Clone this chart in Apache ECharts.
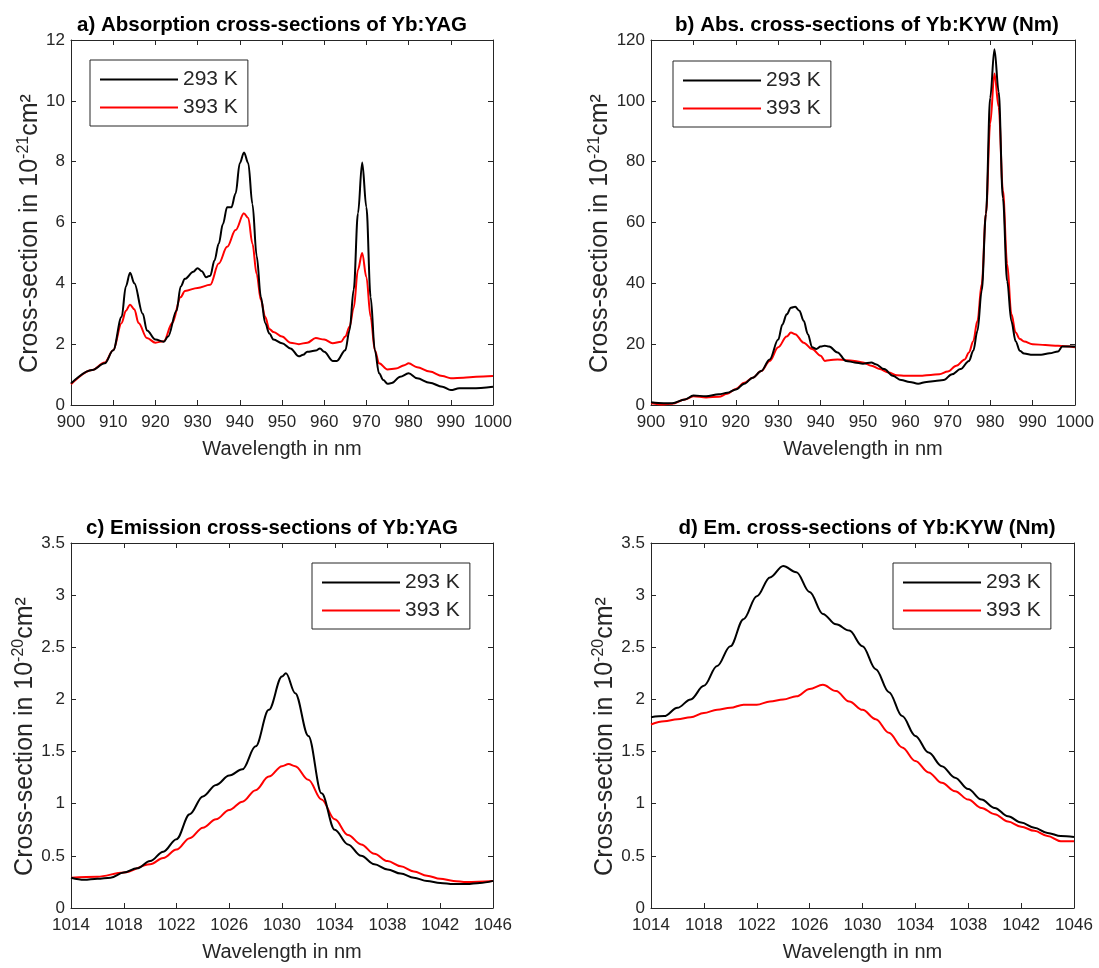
<!DOCTYPE html>
<html><head><meta charset="utf-8">
<script src="https://cdn.jsdelivr.net/npm/echarts@6/dist/echarts.min.js"></script>
<style>html,body{margin:0;padding:0;background:#fff}#c{width:1099px;height:968px}</style>
</head><body><div id="c"></div>
<script>
// ---- Panel a: absorption Yb:YAG (10^-21 cm^2) ----
const aWave293 = [900,905,908,910,912,913,914,915,917,918,920,922,923,925,926,927,929,930,931,932,933,934,935,936,937,938,939,940,941,942,943,944,945,946,947,948,950,952,954,955,956,958,959,960,962,963,965,966,967,968,969,970,971,972,973,974,975,976,978,980,982,985,988,990,992,995,1000];
const aVal293  = [0.71,1.15,1.37,1.8,2.9,3.9,4.35,4.0,3.0,2.45,2.15,2.08,2.25,3.1,3.9,4.15,4.38,4.5,4.4,4.2,4.25,4.75,5.3,5.95,6.5,6.5,6.95,7.95,8.3,7.95,6.6,4.9,3.55,2.7,2.35,2.15,2.03,1.86,1.6,1.65,1.75,1.79,1.86,1.75,1.45,1.45,1.8,2.45,3.8,6.3,7.97,6.5,3.55,1.8,1.04,0.82,0.7,0.72,0.93,1.04,0.88,0.73,0.6,0.49,0.55,0.55,0.6];
const aWave393 = [900,905,908,910,912,913,914,915,916,918,920,922,924,926,927,930,933,935,937,939,941,942,943,944,945,946,947,948,950,952,954,956,958,960,962,964,965,966,967,968,969,970,971,972,973,975,977,979,980,982,985,988,990,993,996,1000];
const aVal393  = [0.68,1.15,1.4,1.8,2.7,3.1,3.3,3.15,2.7,2.2,2.05,2.1,2.7,3.55,3.75,3.85,3.95,4.65,5.2,5.75,6.3,6.15,5.3,4.3,3.45,2.9,2.5,2.4,2.25,2.05,2.0,2.05,2.2,2.15,2.03,2.08,2.25,2.57,3.2,4.45,5.0,4.2,2.9,1.8,1.37,1.17,1.2,1.31,1.37,1.24,1.1,0.95,0.88,0.9,0.93,0.95];

// ---- Panel b: absorption Yb:KYW (Nm) (10^-21 cm^2) ----
const bWave293 = [900,903,905,908,910,913,916,918,920,922,924,926,928,930,931,932,933,934,935,936,937,938,939,940,941,942,944,946,948,950,952,953,955,957,959,961,963,965,967,969,971,973,975,976,977,978,979,980,981,982,983,984,985,986,987,988,990,992,994,996,997,1000];
const bVal293  = [0.9,0.6,0.6,1.8,3.1,2.9,3.5,4,5.1,7,9,11.2,15,21.5,26.5,29.8,32,32.3,31,27.7,23.3,19,18.4,19.2,19.5,19.2,17.3,14.5,14,13.6,14,13.4,11.8,9.6,8.2,7.6,7,7.6,7.9,8.2,10.1,11.8,14.5,17.8,24.4,37.6,62.9,101,117,103,68,40.7,27.5,21,17.8,16.9,16.5,16.5,17,17.6,19.2,19.2];
const bWave393 = [900,903,905,908,910,913,916,918,920,922,924,926,928,930,932,933,934,936,938,940,941,942,944,946,948,950,952,954,956,958,960,962,964,966,968,970,972,974,975,976,977,978,979,980,981,982,983,984,985,986,987,988,990,993,996,1000];
const bVal393  = [0.6,0.2,0.4,1.8,2.9,2.5,2.7,3.7,5.3,7.3,9,11.2,14.5,19,22.5,23.8,23.3,20.5,18.4,16.2,14.5,14.7,15,14.7,14.5,14,12.9,11.8,10.7,9.8,9.6,9.6,9.6,9.9,10.1,11,12.9,15,17.3,21,27.7,39.8,62.9,92.5,109,98,70.5,46.4,29.9,23.8,21.7,20.9,20,19.7,19.5,19];

// ---- Panel c: emission Yb:YAG (10^-20 cm^2) ----
const cWave293 = [1014,1015,1016,1017,1018,1019,1020,1021,1022,1023,1024,1025,1026,1027,1028,1029,1030,1030.3,1031,1032,1033,1034,1035,1036,1037,1038,1039,1040,1041,1042,1043,1044,1045,1046];
const cVal293  = [0.29,0.27,0.28,0.29,0.34,0.38,0.45,0.54,0.66,0.9,1.07,1.18,1.27,1.33,1.55,1.9,2.22,2.25,2.06,1.65,1.1,0.75,0.61,0.5,0.42,0.37,0.33,0.29,0.26,0.24,0.23,0.23,0.24,0.26];
const cWave393 = [1014,1016,1018,1020,1021,1022,1023,1024,1025,1026,1027,1028,1029,1030,1030.5,1031,1032,1033,1034,1035,1036,1037,1038,1039,1040,1041,1042,1043,1044,1046];
const cVal393  = [0.29,0.3,0.34,0.42,0.48,0.56,0.67,0.77,0.85,0.94,1.02,1.13,1.26,1.36,1.38,1.36,1.23,1.04,0.85,0.7,0.61,0.52,0.45,0.4,0.35,0.31,0.28,0.26,0.25,0.26];

// ---- Panel d: emission Yb:KYW (Nm) (10^-20 cm^2) ----
const dWave = [1014,1015,1016,1017,1018,1019,1020,1021,1022,1023,1024,1025,1026,1027,1028,1029,1030,1031,1032,1033,1034,1035,1036,1037,1038,1039,1040,1041,1042,1043,1044,1045,1046];
const dVal293 = [1.83,1.84,1.92,2.0,2.13,2.32,2.51,2.77,2.99,3.17,3.28,3.22,3.03,2.82,2.72,2.66,2.51,2.29,2.07,1.84,1.65,1.49,1.36,1.25,1.14,1.04,0.96,0.88,0.82,0.77,0.72,0.69,0.68];
const dVal393 = [1.76,1.79,1.81,1.83,1.87,1.9,1.92,1.95,1.95,1.98,2.0,2.03,2.1,2.14,2.08,1.98,1.9,1.81,1.68,1.54,1.41,1.3,1.2,1.12,1.04,0.96,0.9,0.83,0.78,0.74,0.69,0.64,0.64];

// ---- Axis tick labels ----
const absXTicks = [900,910,920,930,940,950,960,970,980,990,1000];
const emXTicks  = [1014,1018,1022,1026,1030,1034,1038,1042,1046];
const aYTicks = [0,2,4,6,8,10,12];
const bYTicks = [0,20,40,60,80,100,120];
const emYTicks = [0,0.5,1,1.5,2,2.5,3,3.5];

const titles = ['a) Absorption cross-sections of Yb:YAG','b) Abs. cross-sections of Yb:KYW (Nm)','c) Emission cross-sections of Yb:YAG','d) Em. cross-sections of Yb:KYW (Nm)'];
const seriesNames = ['293 K','393 K'];
const xName = 'Wavelength in nm';

function zip(xs, ys){ return xs.map((x,i)=>[x, ys[i]]); }

const grids = [
  {left:71, top:40, width:422, height:365},
  {left:651, top:40, width:424, height:365},
  {left:71, top:543, width:422, height:365},
  {left:651, top:543, width:423, height:365}
];
const titleCenters = [267, 862, 267, 862];
const xTicksFor = [absXTicks, absXTicks, emXTicks, emXTicks];
const yTicksFor = [aYTicks, bYTicks, emYTicks, emYTicks];
const expFor = ['-21','-21','-20','-20'];
const yGapFor = [27, 29, 27, 29];
const dataFor = [
  [zip(aWave293,aVal293), zip(aWave393,aVal393)],
  [zip(bWave293,bVal293), zip(bWave393,bVal393)],
  [zip(cWave293,cVal293), zip(cWave393,cVal393)],
  [zip(dWave,dVal293), zip(dWave,dVal393)]
];
const legendPos = [
  {left:90, top:60},
  {left:673, top:61},
  {left:312, top:563},
  {left:893, top:563}
];

const axisColor = '#262626';
const font = 'Liberation Sans, Arial, sans-serif';

const xAxis = [], yAxis = [], series = [], legend = [], title = [];
grids.forEach((g, i) => {
  const xt = xTicksFor[i], yt = yTicksFor[i];
  const xmin = xt[0], xmax = xt[xt.length-1], ymin = yt[0], ymax = yt[yt.length-1];
  const common = {
    type:'value', gridIndex:i,
    axisLine:{show:true, onZero:false, lineStyle:{color:axisColor, width:1}},
    splitLine:{show:false}
  };
  xAxis.push(Object.assign({}, common, {
    position:'bottom', min:xmin, max:xmax,
    axisTick:{show:true, inside:true, length:5, customValues:xt, lineStyle:{color:axisColor}},
    axisLabel:{show:true, customValues:xt, color:axisColor, fontSize:17, fontFamily:font, margin:9,
               formatter:v=>String(v)},
    name:xName, nameLocation:'middle', nameGap:34,
    nameTextStyle:{color:axisColor, fontSize:20, fontFamily:font}
  }));
  xAxis.push(Object.assign({}, common, {
    position:'top', min:xmin, max:xmax,
    axisTick:{show:true, inside:true, length:5, customValues:xt, lineStyle:{color:axisColor}},
    axisLabel:{show:false}
  }));
  yAxis.push(Object.assign({}, common, {
    position:'left', min:ymin, max:ymax,
    axisTick:{show:true, inside:true, length:5, customValues:yt, lineStyle:{color:axisColor}},
    axisLabel:{show:true, customValues:yt, color:axisColor, fontSize:17, fontFamily:font, margin:6,
               formatter:v=>String(v)},
    name:'{t|Cross-section in 10}{s|' + expFor[i] + '}{t|cm²}',
    nameLocation:'middle', nameGap:yGapFor[i], nameRotate:90,
    nameTextStyle:{
      color:axisColor, fontFamily:font, padding:[0,22,0,0],
      rich:{
        t:{fontSize:25, fontFamily:font, color:axisColor, lineHeight:28},
        s:{fontSize:16, fontFamily:font, color:axisColor, verticalAlign:'top', lineHeight:28}
      }
    }
  }));
  yAxis.push(Object.assign({}, common, {
    position:'right', min:ymin, max:ymax,
    axisTick:{show:true, inside:true, length:5, customValues:yt, lineStyle:{color:axisColor}},
    axisLabel:{show:false}
  }));
  const colors = ['#000000','#ff0000'];
  seriesNames.forEach((nm, k) => {
    series.push({
      type:'line', name:nm, xAxisIndex:2*i, yAxisIndex:2*i,
      data:dataFor[i][k], symbol:'none', smooth:0.35, smoothMonotone:'x',
      lineStyle:{color:colors[k], width:2}, itemStyle:{color:colors[k]},
      z: k===0 ? 3 : 2, animation:false
    });
  });
  legend.push({
    data:seriesNames.map(n=>({name:n, icon:'rect'})), orient:'vertical',
    left:legendPos[i].left, top:legendPos[i].top,
    padding:[9,10,8,10], itemGap:7, itemWidth:78, itemHeight:2,
    borderColor:axisColor, borderWidth:1, backgroundColor:'#fff',
    textStyle:{fontSize:21, fontFamily:font, color:axisColor, lineHeight:21},
    selectedMode:false
  });
  title.push({
    text:titles[i], left:titleCenters[i], top: g.top - 30, textAlign:'center',
    textStyle:{fontSize:20.5, fontWeight:'bold', fontFamily:font, color:'#000'}
  });
});

const chart = echarts.init(document.getElementById('c'), null, {renderer:'canvas'});
chart.setOption({
  backgroundColor:'#fff', animation:false,
  title, grid:grids.map(g=>Object.assign({containLabel:false}, g)),
  xAxis, yAxis, series, legend
});
</script></body></html>
